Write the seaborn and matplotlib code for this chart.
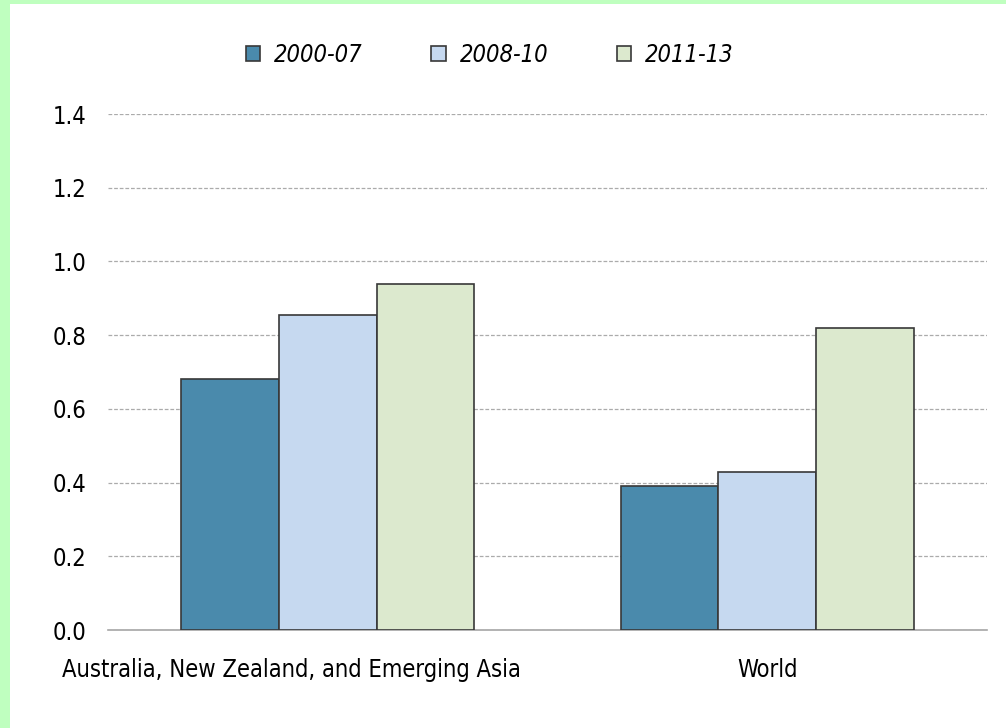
import pandas as pd
import seaborn as sns
import matplotlib.pyplot as plt
import matplotlib.transforms as mtransforms
from matplotlib.patches import Rectangle

# data
regions = ["Australia, New Zealand, and Emerging Asia", "World"]
periods = ["2000-07", "2008-10", "2011-13"]
vals_2000_07 = [0.68, 0.39]
vals_2008_10 = [0.855, 0.43]
vals_2011_13 = [0.94, 0.82]
yticks = [0.0, 0.2, 0.4, 0.6, 0.8, 1.0, 1.2, 1.4]

colors = ["#4A8AAC", "#C6D9F0", "#DCE9CE"]

df = pd.DataFrame({
    "region": regions * 3,
    "period": [p for p in periods for _ in regions],
    "value": vals_2000_07 + vals_2008_10 + vals_2011_13,
})

sns.set_style("white")
plt.rcParams["font.family"] = ["DejaVu Sans"]
plt.rcParams["font.stretch"] = "condensed"
plt.rcParams["text.color"] = "black"

fig = plt.figure(figsize=(10.06, 7.28), dpi=100)
fig.patch.set_facecolor("#BFFFBF")
# white panel inside the green frame
fig.patches.append(Rectangle((10 / 1006, 0), 1 - 10 / 1006, 1 - 4 / 728,
                             transform=fig.transFigure, facecolor="white",
                             edgecolor="none", zorder=-10))

ax = fig.add_axes([108 / 1006, 1 - 630 / 728, (987 - 108) / 1006, (630 - 114) / 728])
ax.set_facecolor("none")

sns.barplot(data=df, x="region", y="value", hue="period", palette=colors,
            saturation=1, width=0.667, gap=0, edgecolor="#383838", linewidth=1.2,
            errorbar=None, ax=ax, zorder=3)

ax.set_ylim(0, 1.4)
ax.set_xlim(-0.5, 1.5)
ax.set_yticks(yticks)
ax.set_yticklabels([f"{t:.1f}" for t in yticks])
ax.yaxis.grid(True, linestyle=(0, (3, 1.5)), color="#ABABAB", linewidth=0.9, zorder=0)
ax.set_axisbelow(True)
ax.set_xlabel("")
ax.set_ylabel("")
ax.tick_params(axis="both", length=0, labelsize=17, labelcolor="black")
ax.tick_params(axis="y", pad=40)
ax.tick_params(axis="x", pad=20)
for lab in ax.get_yticklabels():
    lab.set_horizontalalignment("left")
# first category label sits a bit left of its group in the original
first = ax.get_xticklabels()[0]
first.set_transform(first.get_transform() +
                    mtransforms.ScaledTranslation(-0.36, 0, fig.dpi_scale_trans))
for s in ["top", "right", "left"]:
    ax.spines[s].set_visible(False)
ax.spines["bottom"].set_color("#A6A6A6")
ax.spines["bottom"].set_linewidth(1.2)

handles, labels = ax.get_legend_handles_labels()
ax.legend(handles, labels, loc="center", bbox_to_anchor=(0.487, 1 - 55 / 728),
          bbox_transform=fig.transFigure, ncol=3, frameon=False,
          handlelength=0.6, handleheight=0.6, handletextpad=0.6,
          columnspacing=2.9, prop={"style": "italic", "size": 17})

fig.savefig("out.png", dpi=100, facecolor=fig.get_facecolor())
